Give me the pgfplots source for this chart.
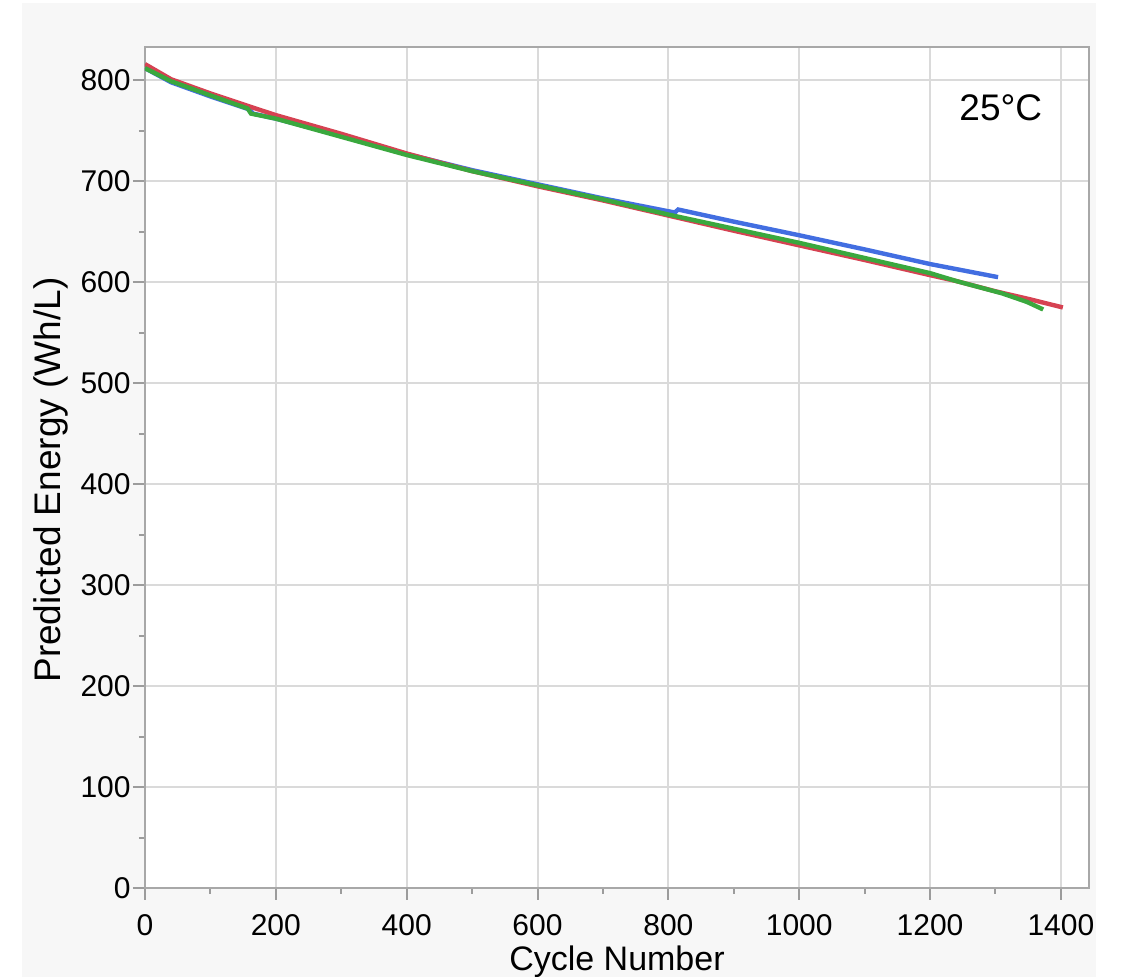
\documentclass[border=0pt]{standalone}
\usepackage{fontspec}
\setmainfont{Liberation Sans}
\usepackage{pgfplots}
\pgfplotsset{compat=1.18}

\definecolor{panelgray}{HTML}{F7F7F7}
\definecolor{axisgray}{HTML}{A8A8A8}
\definecolor{gridgray}{HTML}{DADADA}
\definecolor{tickgray}{HTML}{9C9C9C}
\definecolor{lineblue}{RGB}{66,110,225}
\definecolor{linered}{RGB}{214,66,82}
\definecolor{linegreen}{RGB}{58,168,62}

\begin{document}
\begin{tikzpicture}
% grey panel behind the chart (1px = 0.5pt)
\fill[panelgray] (11pt,0pt) rectangle (548pt,487pt);
\begin{axis}[
  at={(72.5pt,44.5pt)}, anchor=south west,
  width=472pt, height=420.5pt, scale only axis,
  xmin=0, xmax=1443, ymin=0, ymax=833,
  xtick={0,200,...,1400}, ytick={0,100,...,800},
  minor x tick num=1, minor y tick num=1,
  xtick pos=bottom, ytick pos=left,
  tick align=outside,
  major tick length=6pt, minor tick length=3pt,
  every tick/.style={tickgray, line width=1pt},
  axis line style={axisgray, line width=1pt},
  grid=major, major grid style={gridgray, line width=1pt},
  axis background/.style={fill=white},
  /pgf/number format/assume math mode=true,
  /pgf/number format/1000 sep={},
  tick label style={font=\fontsize{15pt}{17pt}\selectfont, inner sep=0pt},
  xticklabel style={anchor=north, yshift=-7pt},
  yticklabel style={anchor=east, xshift=-1pt},
  xlabel={Cycle Number},
  ylabel={Predicted Energy (Wh/L)},
  label style={inner sep=0pt},
  xlabel style={font=\fontsize{17pt}{19pt}\selectfont,
    at={(axis description cs:0.5,0)}, anchor=north, yshift=-28.5pt},
  ylabel style={font=\fontsize{18.5pt}{20pt}\selectfont,
    at={(axis description cs:-0.089,0.485)}, anchor=base},
  clip=true,
]
\addplot[lineblue, line width=2.2pt] coordinates {
  (0,812) (40,798) (100,784) (160,771) (165,767) (200,762) (300,745)
  (400,727) (500,711) (600,697) (700,683) (810,669) (815,672) (900,660)
  (1000,646.5) (1100,632.5) (1200,618) (1304,605)
};
\addplot[linered, line width=2.2pt] coordinates {
  (0,816) (40,801) (100,787) (160,774) (200,765.5) (300,747) (400,727.5)
  (500,710) (600,695) (700,681) (800,666) (900,651) (1000,636.5)
  (1100,622) (1200,607) (1241,601) (1300,591) (1350,583.5) (1403,575)
};
\addplot[linegreen, line width=2.2pt] coordinates {
  (0,812) (40,799) (100,785) (157,772) (162,767) (200,762) (300,744)
  (400,726) (500,710) (600,696) (700,682) (800,667) (900,653) (1000,639)
  (1100,624) (1200,609) (1241,601) (1310,589) (1348,580.5) (1373,573)
};
\node[anchor=base east, inner sep=0pt, font=\fontsize{18.5pt}{20pt}\selectfont]
  at (axis cs:1372,760) {25°C};
\end{axis}
\pgfresetboundingbox
\path[use as bounding box] (0pt,0pt) rectangle (566pt,488.5pt);
\end{tikzpicture}
\end{document}
